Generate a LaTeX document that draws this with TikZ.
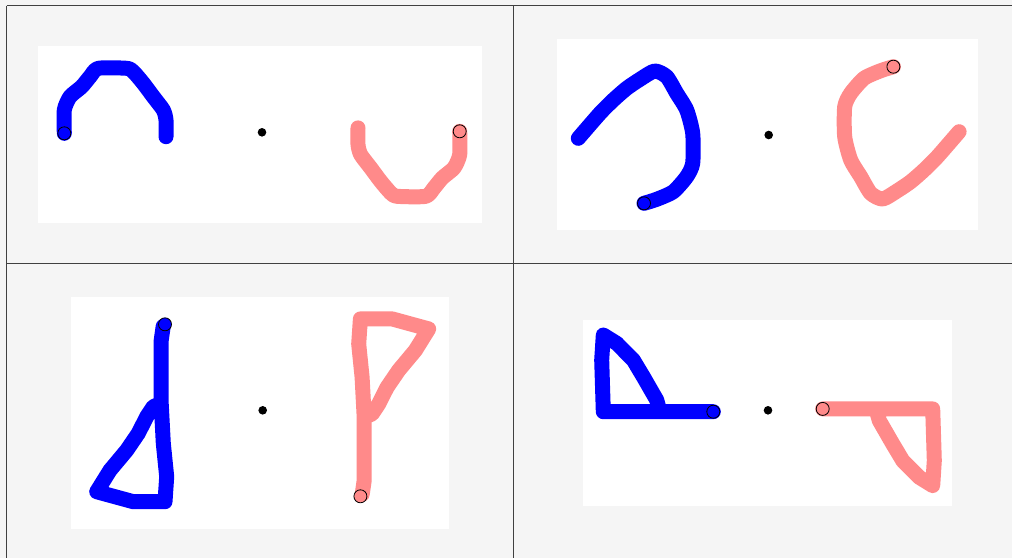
\documentclass[tikz,border=0pt]{standalone}
\definecolor{bgc}{RGB}{245,245,245}
\definecolor{pinkc}{RGB}{255,138,138}
\definecolor{linec}{RGB}{64,64,64}
\tikzset{
 gridline/.style={draw=linec, line width=1.2pt},
 panelbox/.style={fill=white},
 bluestroke/.style={draw=blue, line width=15pt, line cap=round, line join=round},
 pinkstroke/.style={draw=pinkc, line width=15pt, line cap=round, line join=round},
 bluedot/.style={fill=blue, draw=black, line width=0.8pt},
 pinkdot/.style={fill=pinkc, draw=black, line width=0.8pt},
 centredot/.style={fill=black},
}
\begin{document}
\begin{tikzpicture}[x=1pt,y=-1pt]
\useasboundingbox (0,0) rectangle (1012,558);
\fill[bgc] (0,0) rectangle (1012,558);
% white panels
\fill[panelbox] (38,46) rectangle (482,222.7);
\fill[panelbox] (557,39) rectangle (978,229.7);
\fill[panelbox] (71,297) rectangle (449,528.7);
\fill[panelbox] (583,320) rectangle (951.7,505.7);
% panel 1
\def\shapeA{plot[smooth,tension=0.4] coordinates {(-197.7,1) (-197.7,-22.3) (-192,-35.6) (-180.3,-45.6) (-172,-55.6) (-163.7,-64) (-135.3,-64) (-128.7,-60.6) (-118.7,-49) (-108.7,-35.6) (-98.7,-22.3) (-96,-12.3) (-96,4.4)}}
\begin{scope}[shift={(262,132.3)}]
 \draw[bluestroke] \shapeA;
 \draw[pinkstroke, rotate=180] \shapeA;
 \filldraw[bluedot] (-197.7,1) circle (6.5pt);
 \filldraw[pinkdot] (197.7,-1) circle (6.5pt);
 \fill[centredot] (0,0) circle (4.3pt);
\end{scope}
% panel 2
\def\shapeB{plot[smooth,tension=0.4] coordinates {(-124.7,68.3) (-112,64.3) (-95.4,56.7) (-82,41.7) (-76,28.3) (-76,-1.7) (-82,-25) (-92,-41.7) (-102,-58.3) (-114,-64) (-128.7,-55.7) (-142,-46.7) (-155.4,-35) (-168.7,-21.7) (-190.4,3.3)}}
\begin{scope}[shift={(768.7,135)}]
 \draw[bluestroke] \shapeB;
 \draw[pinkstroke, rotate=180] \shapeB;
 \filldraw[bluedot] (-124.7,68.3) circle (6.5pt);
 \filldraw[pinkdot] (124.7,-68.3) circle (6.5pt);
 \fill[centredot] (0,0) circle (4.3pt);
\end{scope}
% panel 3
\def\shapeC{(-99.5,-84) -- (-101.5,-70) -- (-101.5,-7) -- (-99.4,33) -- (-96,66.4) -- (-97.7,91.4) -- (-129.4,91.4) -- (-166,81.4) -- (-152.7,60) -- (-136,40) -- (-124.4,23) -- (-116,6.4) -- (-109.4,-3.6) -- (-101.5,-7)}
\begin{scope}[shift={(262.7,410.3)}]
 \draw[bluestroke] \shapeC;
 \draw[pinkstroke, rotate=180] \shapeC;
 \filldraw[bluedot] (-97.7,-86) circle (6.5pt);
 \filldraw[pinkdot] (97.7,86) circle (6.5pt);
 \fill[centredot] (0,0) circle (4.3pt);
\end{scope}
% panel 4
\def\shapeD{(-54.7,1.4) -- (-164.7,1.4) -- (-166.3,-50.3) -- (-164.7,-75.3) -- (-151.3,-67) -- (-134.7,-50.3) -- (-124.7,-33.6) -- (-111.3,-10.3) -- (-108,1.4)}
\begin{scope}[shift={(768,410.3)}]
 \draw[bluestroke] \shapeD;
 \draw[pinkstroke, rotate=180] \shapeD;
 \filldraw[bluedot] (-54.7,1.4) circle (6.5pt);
 \filldraw[pinkdot] (54.7,-1.4) circle (6.5pt);
 \fill[centredot] (0,0) circle (4.3pt);
\end{scope}
% grid lines
\draw[gridline] (6.5,5.7) -- (1012,5.7);
\draw[gridline] (6.5,5.7) -- (6.5,558);
\draw[gridline] (513.3,5.7) -- (513.3,558);
\draw[gridline] (6.5,263.3) -- (1012,263.3);
\end{tikzpicture}
\end{document}
